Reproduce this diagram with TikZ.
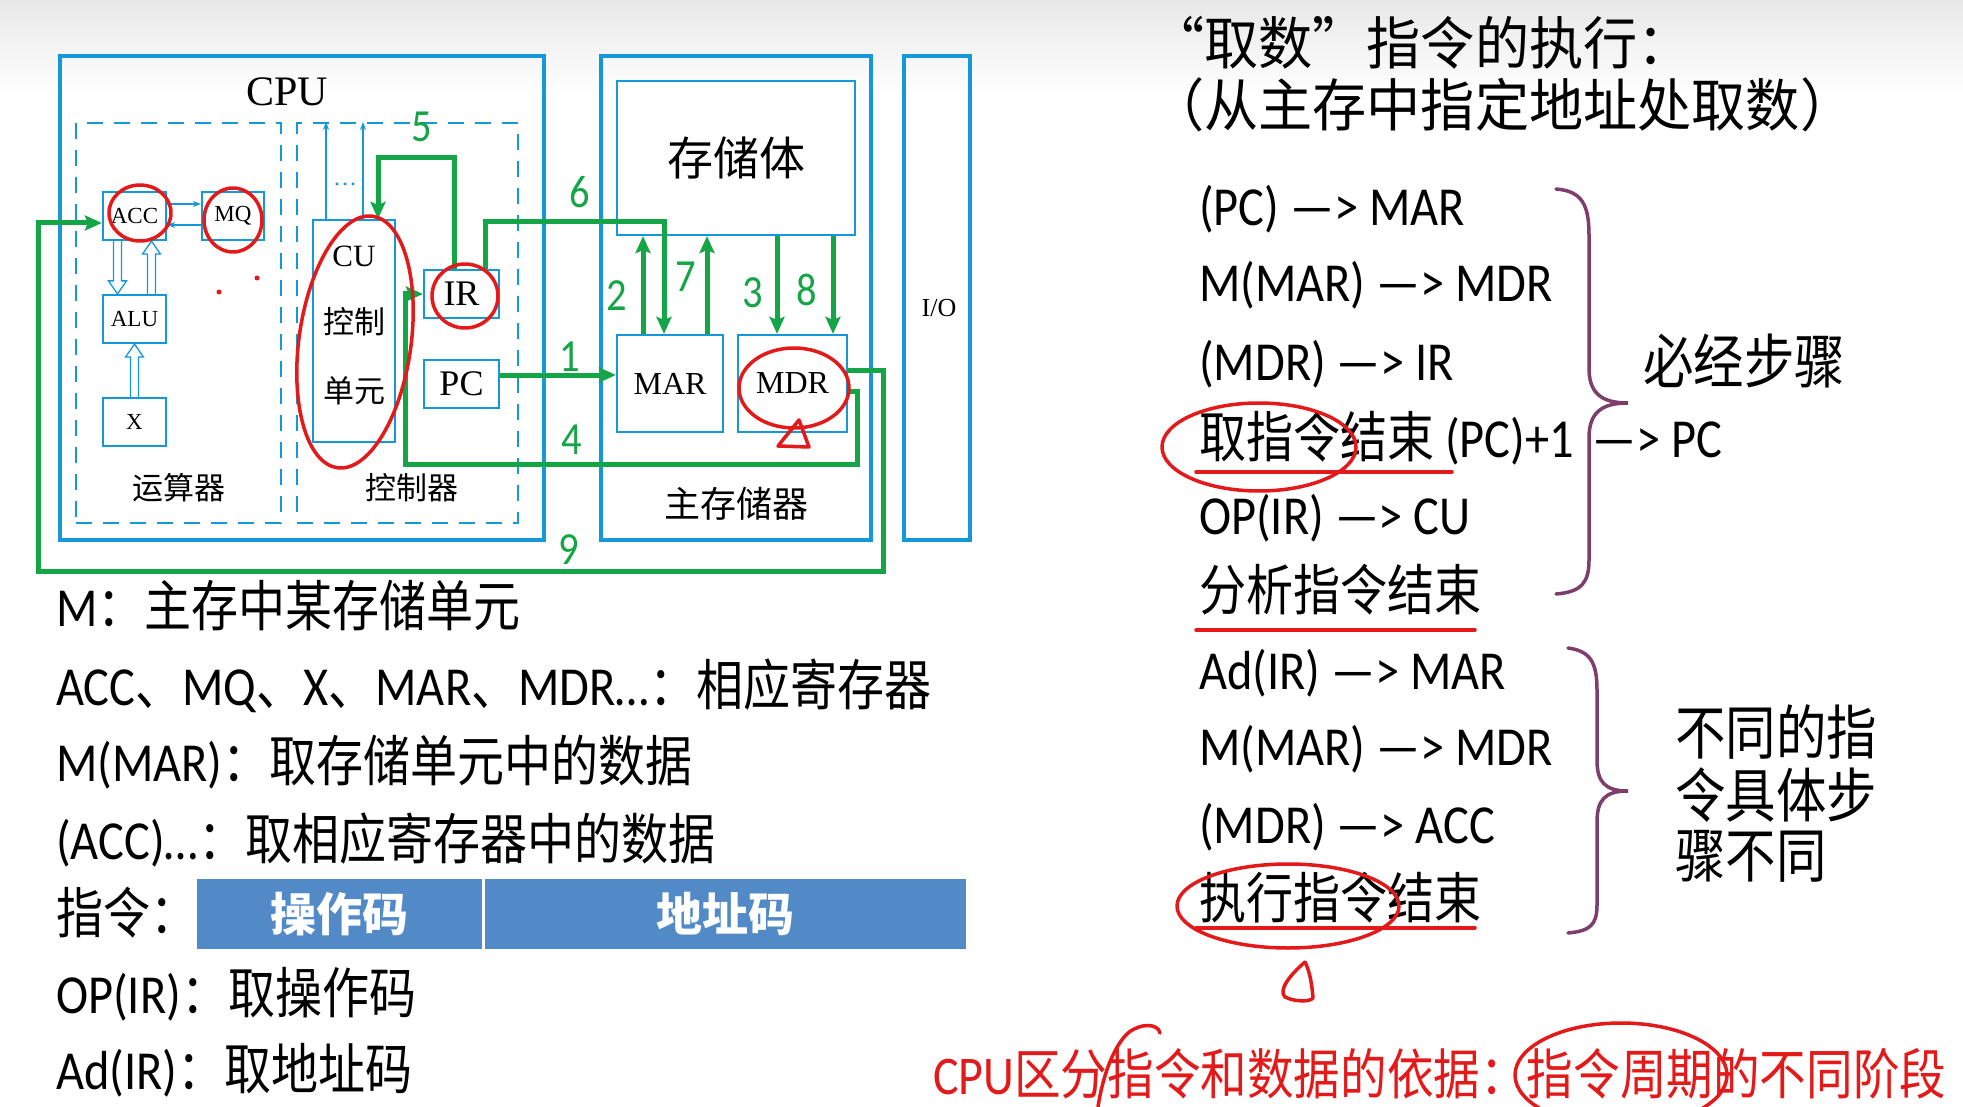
\documentclass[tikz,border=0pt]{standalone}
\usepackage{fontspec}
\setmainfont{Carlito}[FakeStretch=0.88]
\newfontfamily\zhf{Noto Sans CJK SC}[FakeStretch=0.855]
\newfontfamily\zht{Noto Sans CJK SC}[FakeStretch=0.95]
\newfontfamily\zhd{Noto Sans CJK SC}
\newfontfamily\tnr{Liberation Serif}
\usetikzlibrary{arrows.meta,calc}
\newcommand\zh[1]{{\zhf #1}}
\newcommand\fs[1]{\fontsize{#1}{#1}\selectfont}
\definecolor{cblue}{RGB}{20,152,218}
\definecolor{cgreen}{RGB}{20,165,70}
\definecolor{cred}{RGB}{228,25,25}
\definecolor{cpurple}{RGB}{125,62,108}
\definecolor{barblue}{RGB}{82,138,200}
\newcommand\harrow[2]{%
  \draw[draw=cblue,line width=1.3pt,line join=miter] let \p1=#1, \p2=#2, \n1={ifthenelse(\y2>\y1,1,-1)} in
   ({\x1-4pt},\y1) -- ({\x1-4pt},{\y2-\n1*13pt}) -- ({\x1-9pt},{\y2-\n1*13pt}) -- (\x1,\y2) -- ({\x1+9pt},{\y2-\n1*13pt}) -- ({\x1+4pt},{\y2-\n1*13pt}) -- ({\x1+4pt},\y1);}
\begin{document}
\begin{tikzpicture}[x=1pt,y=-1pt,
  bigbox/.style={draw=cblue,line width=3.5pt,inner sep=0pt},
  regbox/.style={draw=cblue,line width=2.2pt,inner sep=0pt,fill=white},
  dbox/.style={draw=cblue,line width=2.2pt,dash pattern=on 16pt off 11pt,inner sep=0pt},
  lbl/.style={inner sep=0pt},
  gl/.style={draw=cgreen,line width=5pt,line join=miter},
  ga/.style={gl,-{Stealth[length=17pt,width=15pt,inset=3pt]}},
  ta/.style={draw=cblue,line width=1.4pt,-{Stealth[length=8pt,width=6pt]}},
  num/.style={text=cgreen,inner sep=0pt,font=\fs{46}},
  ann/.style={draw=cred,line width=3.5pt,line cap=round,line join=round},
  txt/.style={anchor=base west,inner sep=0pt,font=\fs{55}},
  cell/.style={fill=barblue,inner sep=0pt,minimum height=70pt,text=white,font=\zhd\bfseries\fs{46}},
  brace/.style={draw=cpurple,line width=3.5pt,line cap=round}
]
\useasboundingbox (0,0) rectangle (1963,1107);
\fill[white] (0,0) rectangle (1963,1107);
\shade[top color=black!9,bottom color=white] (0,0) rectangle (1963,95);

% ---------------- diagram boxes
\node[bigbox,minimum width=484pt,minimum height=484pt] (cpu) at (302,298) {};
\node[lbl,font=\tnr\fs{42}] (cpul) at (287,92) {CPU};
\node[dbox,minimum width=205pt,minimum height=400pt] (alu box) at (178.5,323) {};
\node[dbox,minimum width=221pt,minimum height=400pt] (ctrl) at (407.5,323) {};
\node[lbl,font=\zhd\fs{31}] (ysq) at (179,488) {运算器};
\node[lbl,font=\zhd\fs{31}] (kzq) at (412,488) {控制器};

\node[regbox,minimum width=63pt,minimum height=48pt,font=\tnr\fs{23}] (acc) at (134.5,216) {ACC};
\node[regbox,minimum width=62pt,minimum height=48pt,font=\tnr\fs{23}] (mq) at (233,216) {MQ};
\node[regbox,minimum width=63pt,minimum height=48pt,font=\tnr\fs{23}] (alu) at (134.5,319) {ALU};
\node[regbox,minimum width=63pt,minimum height=48pt,font=\tnr\fs{23}] (x) at (134.5,422) {X};

\node[regbox,minimum width=82pt,minimum height=222pt] (cu) at (354,331) {};
\node[lbl,font=\tnr\fs{31}] (cu1) at (354,256) {CU};
\node[lbl,font=\zhd\fs{31}] (cu2) at (354,322) {控制};
\node[lbl,font=\zhd\fs{31}] (cu3) at (354,391) {单元};
\node[regbox,minimum width=75pt,minimum height=48pt,font=\tnr\fs{36}] (ir) at (461.5,294) {IR};
\node[regbox,minimum width=75pt,minimum height=48pt,font=\tnr\fs{36}] (pc) at (461.5,384) {PC};

\node[bigbox,minimum width=270pt,minimum height=484pt] (mem) at (736,298) {};
\node[regbox,minimum width=238pt,minimum height=154pt,font=\zhd\fs{46}] (body) at (736,158) {存储体};
\node[regbox,minimum width=106pt,minimum height=97pt,font=\tnr\fs{32}] (mar) at (670,383.5) {MAR};
\node[regbox,minimum width=109pt,minimum height=97pt,font=\tnr\fs{32}] (mdr) at (792.5,383.5) {MDR};
\node[lbl,font=\zhd\fs{36}] (zcq) at (736,504) {主存储器};
\node[bigbox,minimum width=66pt,minimum height=484pt] (io) at (937,298) {};
\node[lbl,font=\tnr\fs{26}] (iol) at (939,308) {I/O};

% thin blue arrows
\draw[ta] ($(acc.east)+(0,-12)$) -- ($(mq.west)+(0,-12)$);
\draw[ta] ($(mq.west)+(0,9)$) -- ($(acc.east)+(0,9)$);
\coordinate (u1) at (326,0);
\coordinate (u2) at (363,0);
\draw[ta] (u1 |- cu.north) -- (u1 |- ctrl.north);
\draw[ta] (u2 |- cu.north) -- (u2 |- ctrl.north);
\node[lbl,text=cblue,font=\tnr\fs{24}] (dots) at (345,184) {…};
\harrow{($(acc.south)+(-17,0)$)}{($(alu.north)+(-17,0)$)}
\harrow{($(alu.north)+(17,0)$)}{($(acc.south)+(17,0)$)}
\harrow{(x.north)}{(alu.south)}

% ---------------- green data paths
\coordinate (k1) at ($(pc.east)+(0,-9)$);
\draw[ga] (k1) -- (k1 -| mar.west);
\coordinate (x2) at (643,0);
\coordinate (x7) at (707,0);
\coordinate (x3) at (777,0);
\coordinate (x8) at (833,0);
\draw[ga] (x2 |- mar.north) -- (x2 |- body.south);
\draw[ga] (x7 |- mar.north) -- (x7 |- body.south);
\draw[ga] (x3 |- body.south) -- (x3 |- mdr.north);
\draw[ga] (x8 |- body.south) -- (x8 |- mdr.north);
\coordinate (k6a) at (485,222);
\coordinate (k6b) at (664,222);
\draw[ga] (k6a |- ir.north) -- (k6a) -- (k6b) -- (k6b |- mar.north);
\coordinate (k5a) at (454,158);
\coordinate (k5b) at (378,158);
\draw[ga] (k5a |- ir.north) -- (k5a) -- (k5b) -- (k5b |- cu.north);
\coordinate (k4a) at (857,391);
\coordinate (k4b) at (857,464);
\coordinate (k4c) at (405,464);
\draw[ga] (mdr.east |- k4a) -- (k4a) -- (k4b) -- (k4c) -- (k4c |- ir.west) -- (ir.west);
\coordinate (k9a) at (883,370);
\coordinate (k9b) at (883,571);
\coordinate (k9c) at (38,571);
\coordinate (k9d) at (38,223);
\draw[ga] (mdr.east |- k9a) -- (k9a) -- (k9b) -- (k9c) -- (k9d) -- (acc.west |- k9d);

\node[num] (n1) at (570,357) {1};
\node[num] (n2) at (617,296) {2};
\node[num] (n3) at (753,293) {3};
\node[num] (n4) at (572,440) {4};
\node[num] (n5) at (422,127) {5};
\node[num] (n6) at (580,192) {6};
\node[num] (n7) at (686,277) {7};
\node[num] (n8) at (807,290) {8};
\node[num] (n9) at (569,550) {9};

% ---------------- left descriptions
\node[txt] (d1) at (56,626) {M\zh{：主存中某存储单元}};
\node[txt] (d2) at (56,705) {ACC\zh{、}MQ\zh{、}X\zh{、}MAR\zh{、}MDR…\zh{：相应寄存器}};
\node[txt] (d3) at (56,781) {M(MAR)\zh{：取存储单元中的数据}};
\node[txt] (d4) at (56,859) {(ACC)…\zh{：取相应寄存器中的数据}};
\node[txt] (d5) at (56,933) {\zh{指令：}};
\node[cell,minimum width=285pt] (op) at (339.5,914) {操作码};
\node[cell,minimum width=481pt] (ad) at (725.5,914) {地址码};
\node[txt] (d6) at (56,1013) {OP(IR)\zh{：取操作码}};
\node[txt] (d7) at (56,1089) {Ad(IR)\zh{：取地址码}};

% ---------------- right side
\node[txt,font=\zht\fs{57}] (t1) at (1150,65) {“取数”指令的执行：};
\node[txt,font=\zht\fs{57}] (t2) at (1150,127) {（从主存中指定地址处取数）};

\node[txt] (r1) at (1199,226) {(PC) —> MAR};
\node[txt] (r2) at (1199,302) {M(MAR) —> MDR};
\node[txt] (r3) at (1199,381) {(MDR) —> IR};
\node[txt] (r4) at (1199,457) {\zh{取指令结束} (PC)+1};
\node[txt] (r4b) at (1592,457) {—> PC};
\node[txt] (r5) at (1199,534) {OP(IR) —> CU};
\node[txt] (r6) at (1199,610) {\zh{分析指令结束}};
\node[txt] (r7) at (1199,689) {Ad(IR) —> MAR};
\node[txt] (r8) at (1199,765) {M(MAR) —> MDR};
\node[txt] (r9) at (1199,843) {(MDR) —> ACC};
\node[txt] (r10) at (1199,918) {\zh{执行指令结束}};

\draw[brace] (1556,189) .. controls (1582,191) and (1589,205) .. (1589,235) -- (1589,368)
  .. controls (1589,392) and (1600,403) .. (1628,403)
  .. controls (1600,403) and (1589,414) .. (1589,438) -- (1589,560)
  .. controls (1589,582) and (1582,592) .. (1556,594);
\draw[brace] (1568,648) .. controls (1590,651) and (1597,662) .. (1597,690) -- (1597,760)
  .. controls (1597,782) and (1605,791) .. (1628,791)
  .. controls (1605,791) and (1597,800) .. (1597,822) -- (1597,905)
  .. controls (1597,925) and (1590,931) .. (1568,933);

\node[txt,font=\zhf\fs{59}] (s1) at (1643,383) {必经步骤};
\node[txt,font=\zhf\fs{59}] (s2) at (1675,754) {不同的指};
\node[txt,font=\zhf\fs{59}] (s3) at (1675,817) {令具体步};
\node[txt,font=\zhf\fs{59}] (s4) at (1675,877) {骤不同};

\node[txt,font=\fs{54.5},text=cred] (bot) at (933,1094) {CPU\zh{区分指令和数据的依据：指令周期的不同阶段}};

% ---------------- red handwritten annotations
\draw[ann] (140,213) ellipse (31 and 28);
\draw[ann] (233,220) ellipse (29 and 32);
\draw[ann] (465,296) ellipse (33 and 32);
\draw[ann,rotate around={-8:(355,342)}] (355,342) ellipse (56 and 127);
\draw[ann] (794,388) ellipse (55 and 40);
\draw[ann] (799,420) -- (778,446) -- (809,447) -- cycle;
\fill[cred] (219,292) circle (2.5);
\fill[cred] (257,278) circle (2.5);
\draw[ann] (1196,472) -- (1452,472);
\draw[ann] (1196,630) -- (1475,630);
\draw[ann] (1196,928) -- (1475,928);
\draw[ann] (1259,447) ellipse (97 and 44);
\draw[ann] (1288,906) ellipse (111 and 42);
\draw[ann] (1305,962) .. controls (1290,975) and (1278,990) .. (1285,997) .. controls (1295,1002) and (1310,1002) .. (1313,998) .. controls (1312,985) and (1310,972) .. (1305,962);
\draw[ann] (1160,1033) .. controls (1158,1023) and (1140,1023) .. (1128,1033) .. controls (1112,1048) and (1102,1080) .. (1098,1107);
\draw[ann] (1621,1075) ellipse (106 and 52);
\end{tikzpicture}
\end{document}
